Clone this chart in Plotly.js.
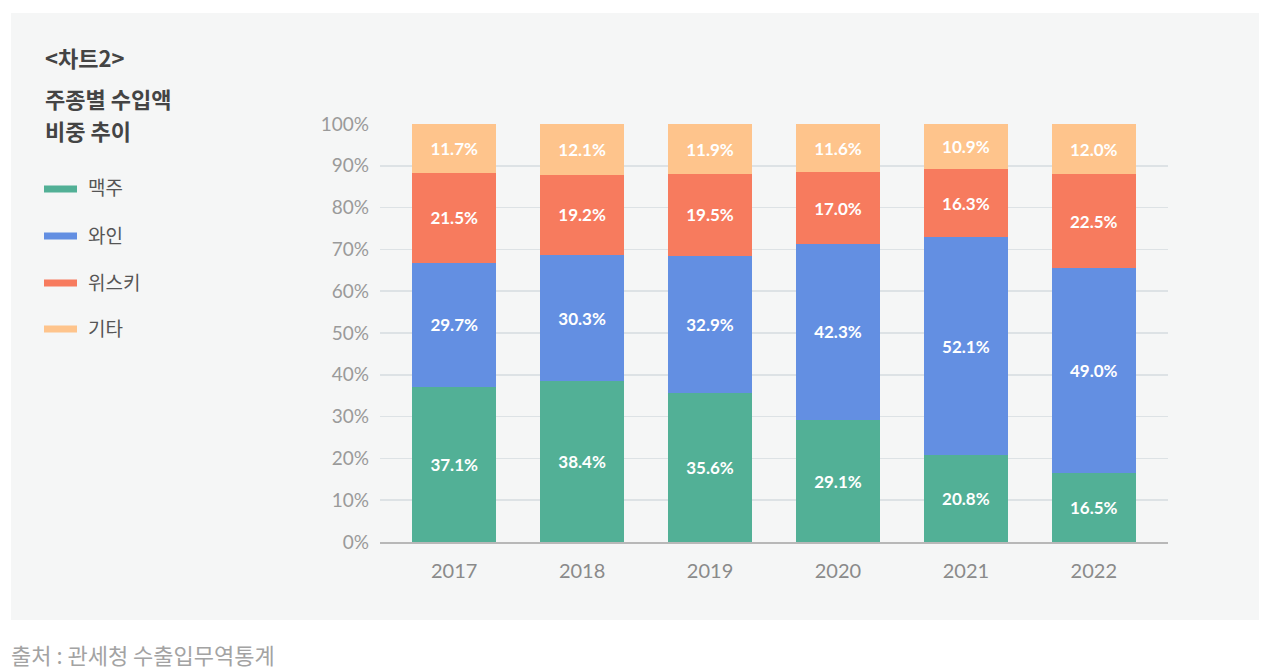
<!DOCTYPE html>
<html>
<head>
<meta charset="utf-8">
<script src="https://cdn.plot.ly/plotly-3.0.1.min.js"></script>
<style>
  html, body { margin: 0; padding: 0; background: #ffffff; }
  #wrap { position: relative; width: 1271px; height: 672px; }
  #panel { position: absolute; left: 11px; top: 13px; width: 1248px; height: 607px; background: #f5f6f6; }
  #chart { position: absolute; left: 0; top: 0; width: 1271px; height: 672px; }
</style>
</head>
<body>
<div id="wrap">
  <div id="panel"></div>
  <div id="chart"></div>
</div>
<script>
const years = ['2017', '2018', '2019', '2020', '2021', '2022'];
const seriesNames = ['맥주', '와인', '위스키', '기타'];
const seriesColors = ['#52b096', '#638fe2', '#f77b5e', '#fec48c'];

const beer = [37.1, 38.4, 35.6, 29.1, 20.8, 16.5];
const wine = [29.7, 30.3, 32.9, 42.3, 52.1, 49.0];
const whisky = [21.5, 19.2, 19.5, 17.0, 16.3, 22.5];
const other = [11.7, 12.1, 11.9, 11.6, 10.9, 12.0];

const seriesValues = [beer, wine, whisky, other];

const W = 1271, H = 672;
const plotL = 380, plotR = 1168, plotT = 124, plotB = 542;
// pixel -> paper coords helpers
const px = (x) => (x - plotL) / (plotR - plotL);
const py = (y) => (plotB - y) / (plotB - plotT);

const latoFont = 'Lato, "Noto Sans CJK KR", sans-serif';
const krFont = '"Noto Sans CJK KR", "Noto Sans", sans-serif';

const traces = seriesValues.map((vals, i) => ({
  type: 'bar',
  name: seriesNames[i],
  x: years,
  y: vals,
  marker: { color: seriesColors[i], line: { width: 0 } },
  width: 0.656,
  text: vals.map((v) => v.toFixed(1) + '%'),
  textposition: 'inside',
  insidetextanchor: 'middle',
  textangle: 0,
  constraintext: 'none',
  textfont: { family: latoFont, size: 17, color: '#ffffff', weight: 'bold' },
  hoverinfo: 'skip',
  showlegend: false,
}));

const annotations = [
  { text: '<b>&lt;차트2&gt;</b>', x: px(43), y: py(57), size: 22 },
  { text: '<b>주종별 수입액</b>', x: px(43), y: py(98), size: 22 },
  { text: '<b>비중 추이</b>', x: px(43), y: py(130), size: 22 },
].map((a) => ({
  xref: 'paper', yref: 'paper', x: a.x, y: a.y,
  xanchor: 'left', yanchor: 'middle', showarrow: false,
  text: a.text, font: { family: krFont, size: a.size, color: '#444444' },
}));

const legendY = [189, 236, 283, 329];
const shapes = [];
seriesNames.forEach((name, i) => {
  shapes.push({
    type: 'rect', xref: 'paper', yref: 'paper', layer: 'above',
    x0: px(44), x1: px(77), y0: py(legendY[i] - 3.5), y1: py(legendY[i] + 3.5),
    fillcolor: seriesColors[i], line: { width: 0 },
  });
  annotations.push({
    xref: 'paper', yref: 'paper', x: px(86), y: py(legendY[i] - 2),
    xanchor: 'left', yanchor: 'middle', showarrow: false,
    text: name, font: { family: krFont, size: 19, color: '#555555' },
  });
});

annotations.push({
  xref: 'paper', yref: 'paper', x: px(9), y: py(654),
  xanchor: 'left', yanchor: 'middle', showarrow: false,
  text: '출처 : 관세청 수출입무역통계', font: { family: krFont, size: 22, color: '#a3a3a3' },
});

const layout = {
  width: W,
  height: H,
  barmode: 'stack',
  paper_bgcolor: 'rgba(0,0,0,0)',
  plot_bgcolor: 'rgba(0,0,0,0)',
  margin: { l: plotL, r: W - plotR, t: plotT, b: H - plotB, pad: 0 },
  showlegend: false,
  xaxis: {
    type: 'category',
    range: [-0.58, 5.58],
    showgrid: false,
    showline: true,
    linecolor: '#b8b8b8',
    linewidth: 2,
    ticks: '',
    ticklabelstandoff: 10,
    tickfont: { family: latoFont, size: 20, color: '#8a8a8a' },
    fixedrange: true,
  },
  yaxis: {
    range: [0, 100],
    dtick: 10,
    ticksuffix: '%',
    showgrid: true,
    gridcolor: '#dde2e5',
    gridwidth: 1.5,
    zeroline: false,
    ticks: '',
    ticklabelstandoff: 10,
    tickfont: { family: latoFont, size: 19, color: '#9a9a9a' },
    fixedrange: true,
  },
  shapes: shapes,
  annotations: annotations,
};

Plotly.newPlot('chart', traces, layout, { displayModeBar: false, staticPlot: true });
</script>
</body>
</html>
